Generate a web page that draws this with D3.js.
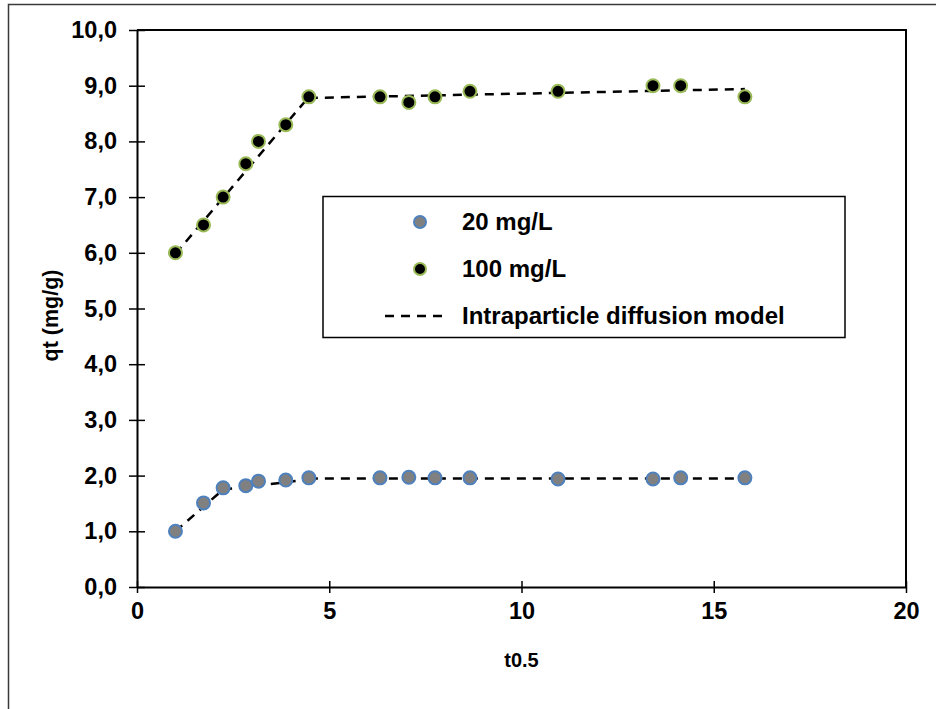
<!DOCTYPE html>
<html>
<head>
<meta charset="utf-8">
<script src="https://cdn.jsdelivr.net/npm/d3@7"></script>
<style>
  body { margin: 0; background: #fff; }
  svg { display: block; font-family: Arial, "Liberation Sans", sans-serif; }
</style>
</head>
<body>
<div id="chart"></div>
<script>
// sqrt(t) values
const tRoot = [1, 1.73, 2.24, 2.83, 3.16, 3.87, 4.47, 6.32, 7.07, 7.75, 8.66, 10.95, 13.42, 14.14, 15.81];
const q20  = [1.0, 1.51, 1.78, 1.82, 1.9, 1.92, 1.96, 1.96, 1.97, 1.96, 1.96, 1.94, 1.94, 1.96, 1.96];
const q100 = [6.0, 6.5, 7.0, 7.6, 8.0, 8.3, 8.8, 8.8, 8.7, 8.8, 8.9, 8.9, 9.0, 9.0, 8.8];

// intraparticle diffusion model segments [x, y]
const model20 = [
  [[1, 1.0], [2.24, 1.75]],
  [[2.24, 1.75], [4.47, 1.93]],
  [[4.47, 1.95], [15.81, 1.95]]
];
const model100 = [
  [[1, 5.98], [4.47, 8.8]],
  [[4.47, 8.78], [15.81, 8.94]]
];

const xTicks = [0, 5, 10, 15, 20];
const yTicks = [0, 1, 2, 3, 4, 5, 6, 7, 8, 9, 10];
const legendItems = ['20 mg/L', '100 mg/L', 'Intraparticle diffusion model'];

const W = 936, H = 709;
const margin = { top: 30, right: 30, bottom: 122, left: 137 };
const FONT = 'Arial, "Liberation Sans", sans-serif';

const svg = d3.select('#chart').append('svg')
  .attr('width', W).attr('height', H);

// outer frame
svg.append('rect')
  .attr('x', 8.5).attr('y', 4.5)
  .attr('width', W + 20).attr('height', H + 20)
  .attr('fill', 'none')
  .attr('stroke', '#3a3a3a')
  .attr('stroke-width', 1.5);

const x = d3.scaleLinear().domain([0, 20]).range([margin.left, W - margin.right]);
const y = d3.scaleLinear().domain([0, 10]).range([H - margin.bottom, margin.top]);

// plot box top + right
svg.append('path')
  .attr('d', `M${x(0)},${y(10)}H${x(20)}V${y(0)}`)
  .attr('fill', 'none')
  .attr('stroke', '#000')
  .attr('stroke-width', 2);

// axes
const yAxis = d3.axisLeft(y).tickValues(yTicks)
  .tickFormat(d => d3.format('.1f')(d).replace('.', ','))
  .tickSizeInner(8).tickSizeOuter(0).tickPadding(12);
const yg = svg.append('g').attr('transform', `translate(${x(0)},0)`).call(yAxis);
yg.selectAll('.tick line').attr('x2', 8).attr('x1', -8);

const xAxis = d3.axisBottom(x).tickValues(xTicks)
  .tickSizeInner(6).tickSizeOuter(0).tickPadding(9);
const xg = svg.append('g').attr('transform', `translate(0,${y(0)})`).call(xAxis);
xg.selectAll('.tick line').attr('y1', -6).attr('y2', 6);

[yg, xg].forEach(g => {
  g.select('.domain').attr('stroke', '#000').attr('stroke-width', 2);
  g.selectAll('.tick line').attr('stroke', '#000').attr('stroke-width', 1.5);
  g.selectAll('.tick text')
    .attr('font-size', 23.5).attr('font-weight', 'bold')
    .attr('fill', '#000').attr('font-family', FONT);
});

// axis titles
svg.append('text')
  .attr('x', x(10)).attr('y', 667)
  .attr('text-anchor', 'middle')
  .attr('font-size', 20).attr('font-weight', 'bold')
  .text('t0.5');

svg.append('text')
  .attr('transform', `translate(58,${(y(0) + y(10)) / 2 + 7}) rotate(-90)`)
  .attr('text-anchor', 'middle')
  .attr('font-size', 21.5).attr('font-weight', 'bold')
  .text('qt (mg/g)');

// model lines
const line = d3.line().x(d => x(d[0])).y(d => y(d[1]));
[...model20, ...model100].forEach(seg => {
  svg.append('path')
    .attr('d', line(seg))
    .attr('fill', 'none')
    .attr('stroke', '#000')
    .attr('stroke-width', 2.5)
    .attr('stroke-dasharray', '9,7');
});

// points
const pts20 = tRoot.map((t, i) => [t, q20[i]]);
const pts100 = tRoot.map((t, i) => [t, q100[i]]);

svg.append('g').selectAll('circle')
  .data(pts20).join('circle')
  .attr('cx', d => x(d[0])).attr('cy', d => y(d[1]))
  .attr('r', 6.5)
  .attr('fill', '#808080')
  .attr('stroke', '#4f81bd')
  .attr('stroke-width', 2);

svg.append('g').selectAll('circle')
  .data(pts100).join('circle')
  .attr('cx', d => x(d[0])).attr('cy', d => y(d[1]))
  .attr('r', 6.5)
  .attr('fill', '#000')
  .attr('stroke', '#9bbb59')
  .attr('stroke-width', 2);

// legend
const lg = svg.append('g');
lg.append('rect')
  .attr('x', 323).attr('y', 196.5)
  .attr('width', 522).attr('height', 141)
  .attr('fill', '#fff')
  .attr('stroke', '#000').attr('stroke-width', 1.5);

const rowY = [222, 269, 316];
lg.append('circle').attr('cx', 420).attr('cy', rowY[0]).attr('r', 6)
  .attr('fill', '#808080').attr('stroke', '#4f81bd').attr('stroke-width', 2);
lg.append('circle').attr('cx', 420).attr('cy', rowY[1]).attr('r', 6)
  .attr('fill', '#000').attr('stroke', '#9bbb59').attr('stroke-width', 2);
lg.append('line')
  .attr('x1', 385).attr('x2', 449).attr('y1', rowY[2]).attr('y2', rowY[2])
  .attr('stroke', '#000').attr('stroke-width', 2.5)
  .attr('stroke-dasharray', '9,7');

lg.selectAll('text.leg')
  .data(legendItems).join('text')
  .attr('class', 'leg')
  .attr('x', 462).attr('y', (d, i) => rowY[i])
  .attr('dy', '0.35em')
  .attr('font-size', 24).attr('font-weight', 'bold')
  .text(d => d);
</script>
</body>
</html>
